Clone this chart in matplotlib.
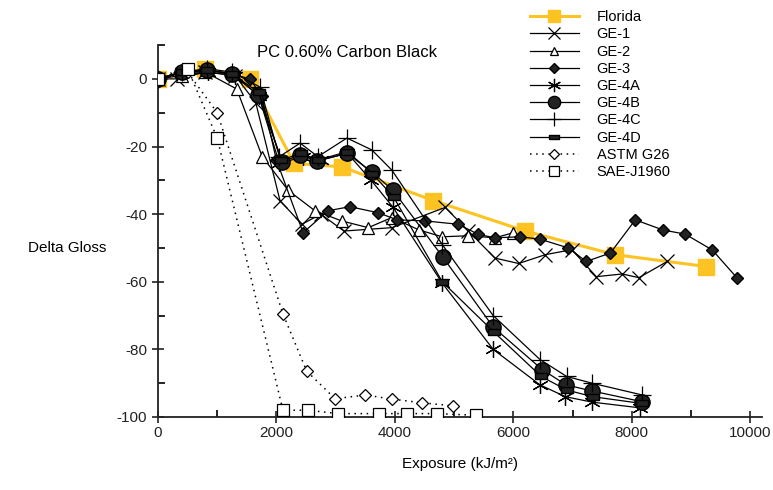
import numpy as np
import matplotlib.pyplot as plt
from matplotlib.ticker import MultipleLocator

plt.rcParams['font.family'] = ['Liberation Sans', 'DejaVu Sans']
plt.rcParams['axes.unicode_minus'] = False

# data (exposure kJ/m2, delta gloss)
florida_x = [0, 800, 1550, 2300, 3100, 4650, 6200, 7720, 9260]
florida_y = [0, 3, 0, -25, -26, -36, -45, -52, -55.5]

ge1_x = [0, 320, 800, 1300, 1650, 2060, 2430, 2750, 3140, 3950, 4850, 5240,
         5690, 6090, 6540, 6990, 7400, 7840, 8120, 8600]
ge1_y = [0, 0, 2, 1, -7, -36, -43, -40, -45, -44, -38, -45,
         -53, -54.6, -52, -50.5, -58.5, -57.7, -58.8, -54]

ge2_x = [0, 400, 800, 1330, 1760, 2200, 2650, 3100, 3550, 3950, 4410, 4800,
         5240, 5690, 6000]
ge2_y = [0, 1, 2, -3, -23, -33, -39, -42, -44, -41, -44.7, -46.7,
         -46.4, -47, -45.5]

ge3_x = [0, 400, 850, 1250, 1550, 1750, 2000, 2450, 2870, 3240, 3720, 4040,
         4510, 5070, 5410, 5690, 6110, 6450, 6930, 7230, 7640, 8060, 8530,
         8900, 9360, 9780]
ge3_y = [0, 2, 2.5, 1.5, 0, -5, -24, -45.5, -39, -37.8, -39.6, -41.7,
         -42, -43, -46, -47, -46.7, -47.4, -50, -54, -51.5, -41.7, -44.7,
         -45.9, -50.6, -58.9]

ge4a_x = [0, 400, 850, 1300, 1700, 2050, 2450, 2750, 3200, 3600, 3970, 4800,
          5660, 6450, 6880, 7330, 8140]
ge4a_y = [0, 2, 2, 1, -5, -25, -23, -24, -22, -30, -38, -60.4,
          -80, -90.5, -94, -95.6, -97.3]

ge4b_x = [0, 400, 830, 1250, 1690, 2100, 2400, 2690, 3190, 3610, 3970, 4810,
          5660, 6490, 6890, 7330, 8180]
ge4b_y = [0, 2, 2.7, 1.5, -4.7, -24.5, -22.5, -24.3, -22, -27.5, -33, -52.7,
          -73.4, -86, -90.5, -92.3, -95.5]

ge4c_x = [0, 400, 830, 1250, 1720, 2050, 2400, 2700, 3190, 3610, 3950, 4800,
          5660, 6450, 6900, 7330, 8180]
ge4c_y = [0, 2, 3, 2, -2.4, -23, -19, -23, -17.5, -21, -27, -49,
          -70, -83, -88, -90, -93.5]

ge4d_x = [0, 400, 830, 1250, 1700, 2080, 2420, 2700, 3200, 3620, 3980, 4800,
          5680, 6470, 6900, 7340, 8170]
ge4d_y = [0, 2, 2.5, 1.5, -4, -24, -22, -24, -21.5, -28, -35, -60,
          -75, -88, -92, -94, -96]

astm_x = [0, 500, 1000, 2110, 2510, 2990, 3500, 3950, 4460, 4980]
astm_y = [0, 2, -10, -69.5, -86.4, -94.6, -93.5, -94.7, -95.8, -96.7]

sae_x = [0, 500, 1000, 2110, 2530, 3040, 3730, 4200, 4710, 5370]
sae_y = [0, 3, -17.5, -98, -98, -99, -99, -99, -99, -99.5]

fig = plt.figure(figsize=(7.73, 4.9), dpi=100)
ax = fig.add_axes([0.2044, 0.149, 0.7814, 0.759])

yellow = '#FDC323'
rect = [(-1, -0.45), (1, -0.45), (1, 0.45), (-1, 0.45), (-1, -0.45)]

ax.plot(florida_x, florida_y, color=yellow, lw=2.2, marker='s', ms=11,
        label='Florida', zorder=2)
ax.plot(ge1_x, ge1_y, color='k', lw=0.9, marker='x', ms=10, mew=0.9,
        label='GE-1', zorder=3)
ax.plot(ge2_x, ge2_y, color='k', lw=0.9, marker='^', ms=8, mfc='white',
        mew=0.9, label='GE-2', zorder=3)
ax.plot(ge3_x, ge3_y, color='k', lw=0.9, marker='D', ms=6.5, mfc='#222222',
        label='GE-3', zorder=3)
ax.plot(ge4a_x, ge4a_y, color='k', lw=0.9, marker=(6, 2, 0), ms=12, mew=0.9,
        label='GE-4A', zorder=3)
ax.plot(ge4b_x, ge4b_y, color='k', lw=0.9, marker='o', ms=11, mfc='#222222',
        label='GE-4B', zorder=3)
ax.plot(ge4c_x, ge4c_y, color='k', lw=0.9, marker='+', ms=13, mew=0.9,
        label='GE-4C', zorder=3)
ax.plot(ge4d_x, ge4d_y, color='k', lw=0.9, marker=rect, ms=9, mfc='#222222',
        label='GE-4D', zorder=3)
ax.plot(astm_x, astm_y, color='k', lw=1.1, ls=(0, (1, 3)), marker='D', ms=6,
        mfc='white', mew=0.9, label='ASTM G26', zorder=3)
ax.plot(sae_x, sae_y, color='k', lw=1.1, ls=(0, (1, 3)), marker='s', ms=9,
        mfc='white', mew=0.9, label='SAE-J1960', zorder=4)

ax.set_xlim(0, 10200)
ax.set_ylim(-100, 10)
ax.xaxis.set_major_locator(MultipleLocator(2000))
ax.xaxis.set_minor_locator(MultipleLocator(1000))
ax.yaxis.set_major_locator(MultipleLocator(20))
ax.yaxis.set_minor_locator(MultipleLocator(10))
ax.tick_params(which='major', direction='inout', length=9, width=1.2,
               labelsize=11, colors='#222222')
ax.tick_params(which='minor', direction='in', length=5, width=1.2)
ax.tick_params(axis='x', which='major', pad=2)
for s in ['top', 'right']:
    ax.spines[s].set_visible(False)
for s in ['left', 'bottom']:
    ax.spines[s].set_linewidth(1.3)
    ax.spines[s].set_color('#222222')

ax.set_xlabel('Exposure (kJ/m²)', fontsize=11, labelpad=12)
fig.text(0.087, 0.494, 'Delta Gloss', fontsize=11, ha='center', va='center')
fig.text(0.449, 0.893, 'PC 0.60% Carbon Black', fontsize=12, ha='center',
         va='center')

ax.legend(loc='upper left', bbox_to_anchor=(0.672, 1.0), bbox_transform=fig.transFigure,
          frameon=False, fontsize=10.5, handlelength=3.4, labelspacing=0.22,
          handletextpad=1.2, borderpad=0.2, markerscale=0.8)

fig.savefig('out.png', dpi=100)
